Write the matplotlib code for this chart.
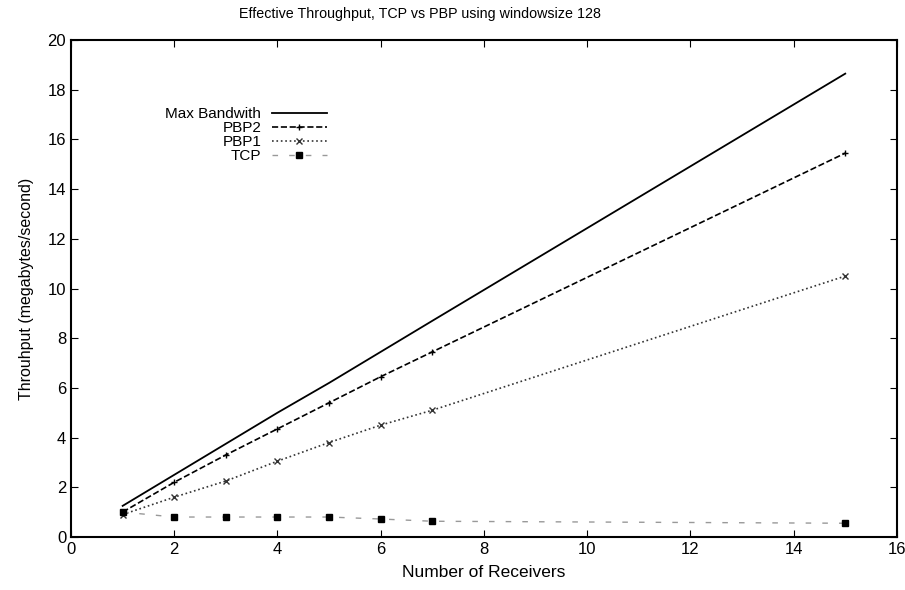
import matplotlib.pyplot as plt

plt.rcParams['font.family'] = ['Liberation Sans', 'DejaVu Sans']

receivers = [1, 2, 3, 4, 5, 6, 7, 15]
max_bw = [1.25, 2.5, 3.75, 5.0, 6.2, 7.45, 8.7, 18.65]
pbp2 = [1.0, 2.2, 3.3, 4.35, 5.4, 6.45, 7.45, 15.45]
pbp1 = [0.9, 1.6, 2.25, 3.05, 3.8, 4.5, 5.1, 10.5]
tcp = [1.0, 0.8, 0.8, 0.8, 0.8, 0.72, 0.63, 0.55]

fig = plt.figure(figsize=(9.05, 5.9), dpi=100)
ax = fig.add_axes([0.0785, 0.09, 0.9125, 0.842])

ax.plot(receivers, max_bw, '-', color='black', lw=1.3, label='Max Bandwith')
ax.plot(receivers, pbp2, '--', color='black', lw=1.2, marker='+', ms=5, label='PBP2')
ax.plot(receivers, pbp1, ':', color='#333333', lw=1.2, marker='x', ms=5, label='PBP1')
ax.plot(receivers, tcp, linestyle=(0, (4, 8)), color='#999999', lw=1.0,
        marker='s', ms=5, mfc='black', mec='black', label='TCP')

ax.set_xlim(0, 16)
ax.set_ylim(0, 20)
ax.set_xticks(range(0, 17, 2))
ax.set_yticks(range(0, 21, 2))
ax.tick_params(direction='in', top=True, right=True, labelsize=12, length=5)
for s in ax.spines.values():
    s.set_linewidth(1.5)

ax.set_xlabel('Number of Receivers', fontsize=12.5, labelpad=6)
ax.set_ylabel('Throuhput (megabytes/second)', fontsize=11.5, labelpad=10)
fig.text(0.464, 0.976, 'Effective Throughput, TCP vs PBP using windowsize 128',
         fontsize=10.3, ha='center', va='center')

leg = ax.legend(loc='upper left', bbox_to_anchor=(0.105, 0.88), frameon=False,
                markerfirst=False, fontsize=11, handlelength=3.6,
                labelspacing=0.0, borderpad=0, handletextpad=0.7)
for t in leg.get_texts():
    t.set_ha('right')
leg._legend_box.align = 'right'

fig.savefig('out.png', dpi=100)
